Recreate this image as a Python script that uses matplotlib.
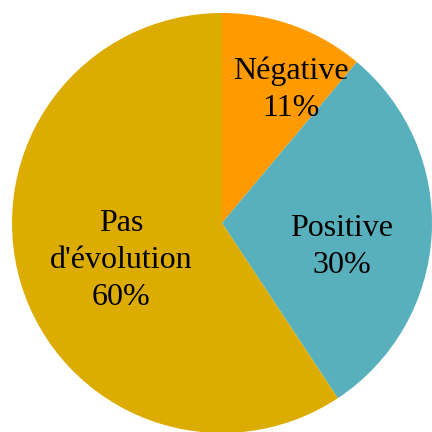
import matplotlib
matplotlib.use('Agg')
import matplotlib.pyplot as plt

labels = ['Négative', 'Positive', "Pas\nd'évolution"]
values = [11.1, 29.6, 59.3]
pct_labels = ['11%', '30%', '60%']
colors = ['#FF9A00', '#57B0BC', '#DDAC00']
# label centres, in pie radius units
label_pos = [(0.33, 0.635), (0.57, -0.115), (-0.48, -0.18)]

plt.rcParams['font.family'] = ['Liberation Serif', 'DejaVu Serif']

fig = plt.figure(figsize=(4.32, 4.32), dpi=100)
r = 210
cx, cy = 222, 223
ax = fig.add_axes([(cx - r) / 432, (432 - cy - r) / 432, 2 * r / 432, 2 * r / 432])

ax.pie(values, colors=colors, startangle=90, counterclock=False,
       wedgeprops=dict(linewidth=0), radius=1)
for lab, pct, (x, y) in zip(labels, pct_labels, label_pos):
    ax.text(x, y, lab + '\n' + pct, ha='center', va='center',
            fontsize=23, linespacing=1.37, color='black')

ax.set_xlim(-1, 1)
ax.set_ylim(-1, 1)
ax.set_aspect('equal')
ax.axis('off')

fig.savefig('out.png', dpi=100)
